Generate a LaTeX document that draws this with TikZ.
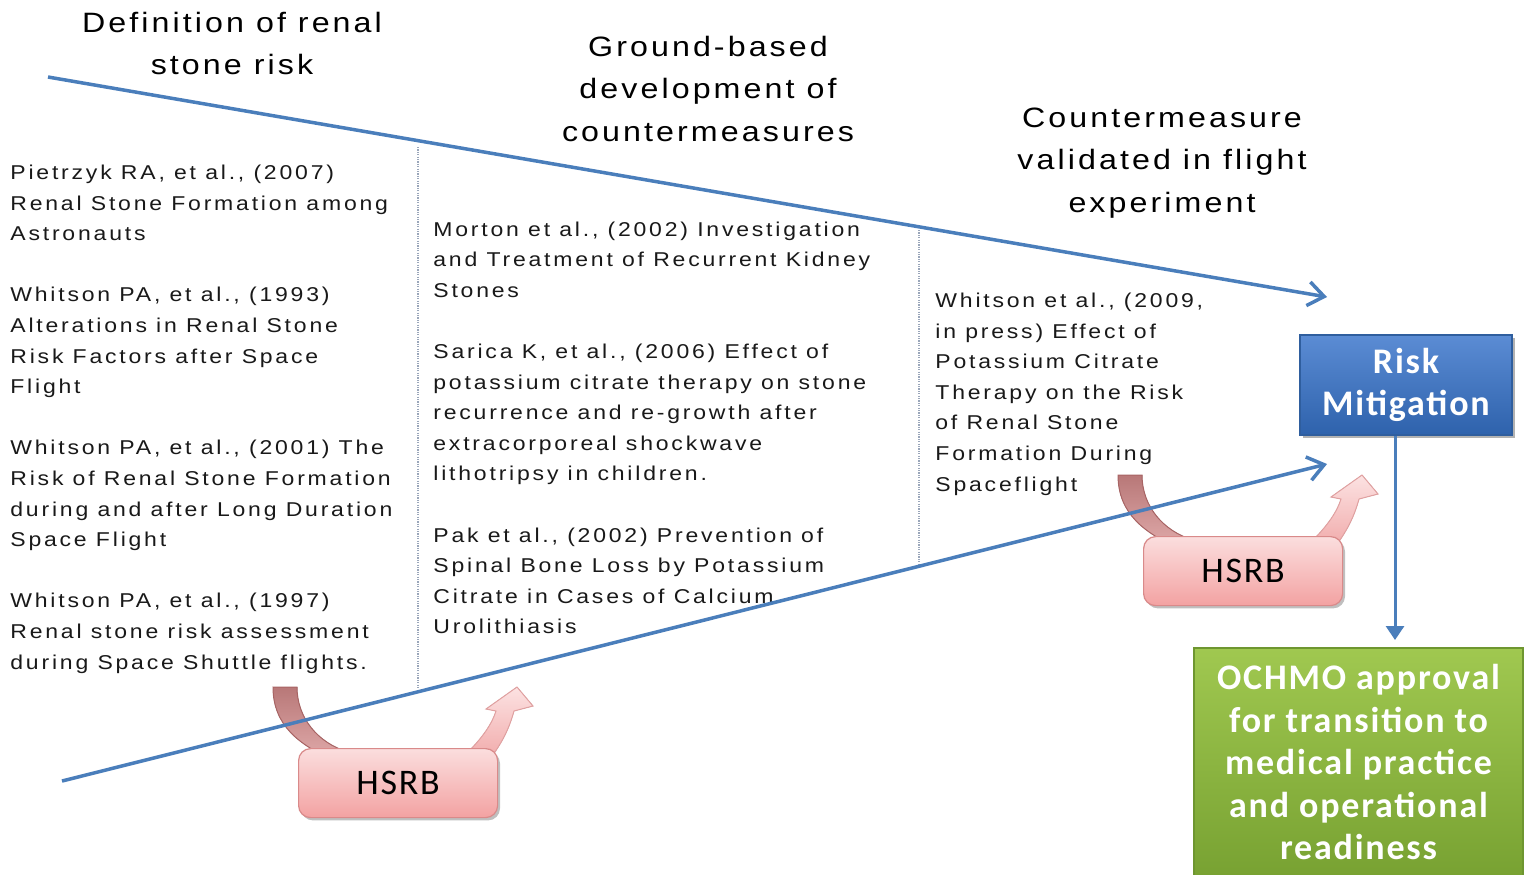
\documentclass[tikz,border=0pt]{standalone}
\usepackage{fontspec}
\setmainfont{Liberation Sans}
\newfontfamily\reffont{Liberation Sans}[LetterSpace=14, FakeStretch=1.15]
\newfontfamily\headfont{Liberation Sans}[LetterSpace=11, FakeStretch=1.15]
\newfontfamily\boxfont{Carlito}[LetterSpace=5]
\usetikzlibrary{arrows.meta,shadows}

\definecolor{lineblue}{HTML}{4A7EBB}
\definecolor{divgray}{HTML}{9AA6BA}
\definecolor{rmtop}{HTML}{5B8CD4}
\definecolor{rmbot}{HTML}{2E62AC}
\definecolor{rmedge}{HTML}{2F5E9E}
\definecolor{grtop}{HTML}{A0C850}
\definecolor{grbot}{HTML}{78A232}
\definecolor{gredge}{HTML}{6E9630}
\definecolor{pktop}{HTML}{FBDEDE}
\definecolor{pkbot}{HTML}{F3A2A2}
\definecolor{pkedge}{HTML}{D98A8A}
\definecolor{mauvetop}{HTML}{B87878}
\definecolor{mauvebot}{HTML}{E0AAAA}
\definecolor{mauveedge}{HTML}{A86464}
\definecolor{arrtop}{HTML}{FCE2E2}
\definecolor{arrbot}{HTML}{F2B0B0}

\tikzset{
  reftext/.style={anchor=north west, inner sep=0pt, align=left, text=black!90,
    font=\reffont\fontsize{10}{15.3}\selectfont},
  phase/.style={anchor=north, inner sep=0pt, align=center, text=black,
    font=\headfont\fontsize{14}{21.3}\selectfont},
  flow/.style={draw=lineblue, line width=1.75pt,
    -{Straight Barb[length=8pt,width=12pt]}},
  vflow/.style={draw=lineblue, line width=1.5pt,
    -{Triangle[length=7pt,width=9pt]}},
  divider/.style={draw=divgray, line width=0.6pt, dash pattern=on 0.6pt off 0.6pt},
  hsrbbox/.style={anchor=north west, rounded corners=6pt, draw=pkedge, line width=0.6pt,
    top color=pktop, bottom color=pkbot, minimum width=99.5pt, minimum height=34.5pt,
    inner sep=0pt, font=\boxfont\fontsize{18}{21}\selectfont,
    drop shadow={shadow xshift=1.2pt, shadow yshift=-1.4pt, opacity=0.25, fill=black}},
  riskbox/.style={anchor=north west, draw=rmedge, line width=1pt,
    top color=rmtop, bottom color=rmbot, minimum width=106pt, minimum height=50pt,
    inner sep=0pt, align=center, text=white,
    font=\boxfont\bfseries\fontsize{18}{21}\selectfont,
    drop shadow={shadow xshift=1.5pt, shadow yshift=-1.5pt, opacity=0.3, fill=black}},
  ochmobox/.style={anchor=north west, draw=gredge, line width=1pt,
    top color=grtop, bottom color=grbot, minimum width=164.5pt, minimum height=114pt,
    inner sep=0pt, align=center, text=white,
    font=\boxfont\bfseries\fontsize{18}{21.25}\selectfont,
    drop shadow={shadow xshift=1.5pt, shadow yshift=-1.5pt, opacity=0.3, fill=black}},
  % the review-board hand-off: band coming down into the box, arrow leaving it
  hsrbflow/.pic={
    \fill[top color=mauvetop, bottom color=mauvebot, draw=mauveedge, line width=0.5pt]
      (-25,-61) .. controls (-25,-22) and (2,-3) .. (35,12)
      -- (50,4) .. controls (20,-5) and (-1,-30) .. (-1,-61) -- cycle;
    \fill[top color=arrtop, bottom color=arrbot, draw=pkedge!80, line width=0.5pt]
      (170,4) .. controls (184,-10) and (194,-24) .. (198,-37)
      -- (188,-39) -- (219,-61) -- (235,-42) -- (216,-37)
      .. controls (211,-19) and (205,-8) .. (197,4) -- cycle;
  }
}

\begin{document}
\begin{tikzpicture}[x=0.5pt,y=-0.5pt]
\useasboundingbox (0,0) rectangle (1524,874);
\fill[white] (0,0) rectangle (1524,874);

% phase headings
\node[phase] (def) at (232,2) {\strut Definition of renal\\stone risk};
\node[phase] (ground) at (708,26) {\strut Ground-based\\development of\\countermeasures};
\node[phase] (flight) at (1162,97) {\strut Countermeasure\\validated in flight\\experiment};

% reference lists
\node[reftext] (refs1) at (10,157.6) {\strut Pietrzyk RA, et al., (2007)\\Renal Stone Formation among\\Astronauts\\[15.3pt]
Whitson PA, et al., (1993)\\Alterations in Renal Stone\\Risk Factors after Space\\Flight\\[15.3pt]
Whitson PA, et al., (2001) The\\Risk of Renal Stone Formation\\during and after Long Duration\\Space Flight\\[15.3pt]
Whitson PA, et al., (1997)\\Renal stone risk assessment\\during Space Shuttle flights.};

\node[reftext] (refs2) at (433,214.2) {\strut Morton et al., (2002) Investigation\\and Treatment of Recurrent Kidney\\Stones\\[15.3pt]
Sarica K, et al., (2006) Effect of\\potassium citrate therapy on stone\\recurrence and re-growth after\\extracorporeal shockwave\\lithotripsy in children.\\[15.3pt]
Pak et al., (2002) Prevention of\\Spinal Bone Loss by Potassium\\Citrate in Cases of Calcium\\Urolithiasis};

\node[reftext] (refs3) at (935,285.6) {\strut Whitson et al., (2009,\\in press) Effect of\\Potassium Citrate\\Therapy on the Risk\\of Renal Stone\\Formation During\\Spaceflight};

% column dividers
\coordinate (d1t) at (418,147);  \coordinate (d1b) at (418,688);
\coordinate (d2t) at (919,230);  \coordinate (d2b) at (919,568);
\draw[divider] (d1t) -- (d1b);
\draw[divider] (d2t) -- (d2b);

% review-board hand-offs (drawn under the lines and boxes)
\coordinate (h1c) at (298,748);
\coordinate (h2c) at (1143,536);
\pic at (h1c) {hsrbflow};
\pic at (h2c) {hsrbflow};

% risk-narrowing lines
\coordinate (ts) at (48,77);   \coordinate (te) at (1327,297);
\coordinate (bs) at (62,781);  \coordinate (be) at (1327,464);
\draw[flow] (ts) -- (te);
\draw[flow] (bs) -- (be);

% boxes
\node[hsrbbox] (h1) at (h1c) {HSRB};
\node[hsrbbox] (h2) at (h2c) {HSRB};
\node[riskbox] (rm) at (1299,334) {Risk\\Mitigation};
\node[ochmobox] (ochmo) at (1193,647) {OCHMO approval\\for transition to\\medical practice\\and operational\\readiness};

% approval path
\coordinate (vx) at (1395,0);
\draw[vflow, shorten >=3.5pt] (rm.south -| vx) -- (ochmo.north -| vx);
\end{tikzpicture}
\end{document}
